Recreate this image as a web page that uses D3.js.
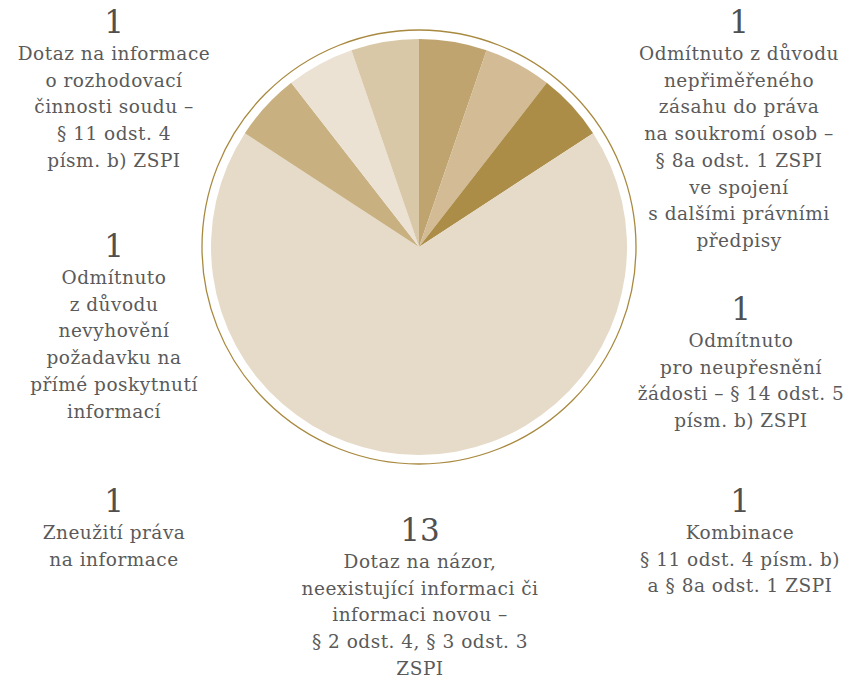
<!DOCTYPE html>
<html>
<head>
<meta charset="utf-8">
<script src="https://cdn.jsdelivr.net/npm/d3@7"></script>
<style>
  body { margin: 0; background: #fff; }
  svg { display: block; }
  .num { font-family: "DejaVu Serif", serif; font-size: 31px; fill: #505050; }
  .lbl { font-family: "DejaVu Serif", serif; font-size: 18.5px; letter-spacing: 0.5px; fill: #5a5a5a; }
</style>
</head>
<body>
<div id="chart"></div>
<script>
// slices, clockwise from 12 o'clock
var categories = [
  ["Odmítnuto z důvodu", "nepřiměřeného", "zásahu do práva", "na soukromí osob –", "§ 8a odst. 1 ZSPI", "ve spojení", "s dalšími právními", "předpisy"],
  ["Odmítnuto", "pro neupřesnění", "žádosti – § 14 odst. 5", "písm. b) ZSPI"],
  ["Kombinace", "§ 11 odst. 4 písm. b)", "a § 8a odst. 1 ZSPI"],
  ["Dotaz na názor,", "neexistující informaci či", "informaci novou –", "§ 2 odst. 4, § 3 odst. 3", "ZSPI"],
  ["Zneužití práva", "na informace"],
  ["Odmítnuto", "z důvodu", "nevyhovění", "požadavku na", "přímé poskytnutí", "informací"],
  ["Dotaz na informace", "o rozhodovací", "činnosti soudu –", "§ 11 odst. 4", "písm. b) ZSPI"]
];
var values = [1, 1, 1, 13, 1, 1, 1];
var colors = ["#bfa46f", "#d2bb95", "#ac8d48", "#e6dbc8", "#c8b081", "#ebe2d3", "#d9c8a7"];

// label anchors (centre x, baseline of the number)
var labelPos = [[739, 33], [741, 320], [740, 512], [420, 541], [114, 512], [114, 257], [114, 33]];

var width = 847, height = 679,
    cx = 419, cy = 247, radius = 208, ringRadius = 217,
    lineH = 26.7;

var svg = d3.select("#chart").append("svg")
    .attr("width", width)
    .attr("height", height);

var pie = d3.pie().sort(null).value(function(d) { return d; });
var arc = d3.arc().innerRadius(0).outerRadius(radius);

var g = svg.append("g").attr("transform", "translate(" + cx + "," + cy + ")");

g.append("circle")
    .attr("r", ringRadius)
    .attr("fill", "none")
    .attr("stroke", "#a8893f")
    .attr("stroke-width", 1.3);

g.selectAll("path")
    .data(pie(values))
    .enter().append("path")
      .attr("d", arc)
      .attr("fill", function(d, i) { return colors[i]; });

var labels = svg.selectAll("g.label")
    .data(values)
    .enter().append("g")
      .attr("class", "label")
      .attr("transform", function(d, i) { return "translate(" + labelPos[i][0] + "," + labelPos[i][1] + ")"; });

labels.append("text")
    .attr("class", "num")
    .attr("text-anchor", "middle")
    .text(function(d) { return d; });

labels.each(function(d, i) {
  var t = d3.select(this).append("text")
      .attr("class", "lbl")
      .attr("text-anchor", "middle");
  categories[i].forEach(function(line, j) {
    t.append("tspan")
        .attr("x", 0)
        .attr("y", 27 + j * lineH)
        .text(line);
  });
});
</script>
</body>
</html>
